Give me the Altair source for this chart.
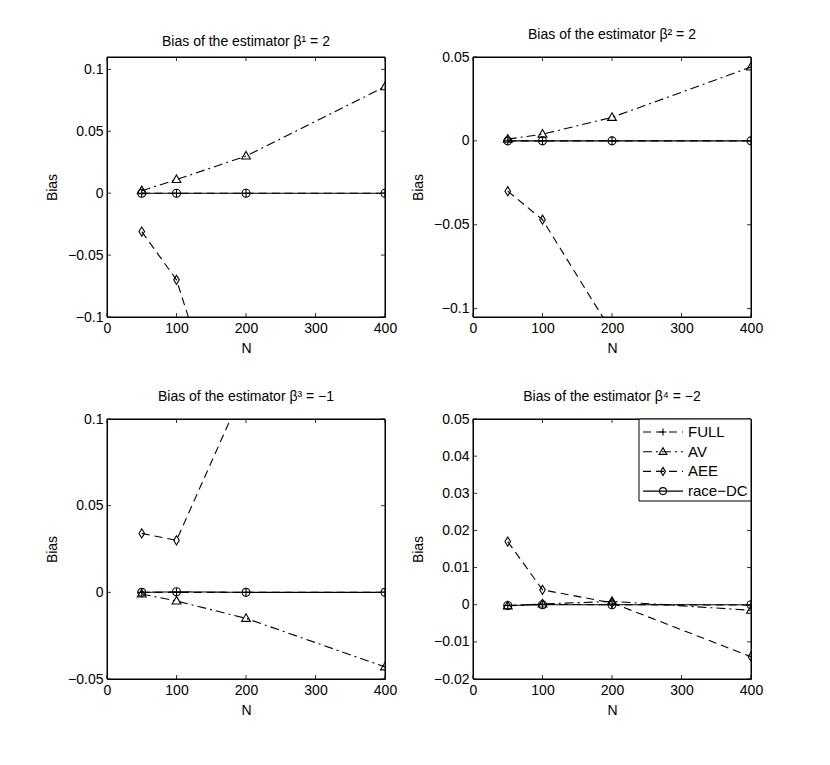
import altair as alt
import pandas as pd

N = [50, 100, 200, 400]
series = ["FULL", "AV", "AEE", "race−DC"]

# Panel 1: beta^1 = 2
p1_full = [0.0, 0.0, 0.0, 0.0]
p1_av = [0.002, 0.011, 0.030, 0.086]
p1_aee = [-0.031, -0.070, -0.246, -0.400]
p1_race = [0.0, 0.0, 0.0, 0.0]

# Panel 2: beta^2 = 2
p2_full = [0.0, 0.0, 0.0, 0.0]
p2_av = [0.001, 0.004, 0.014, 0.044]
p2_aee = [-0.030, -0.047, -0.114, -0.200]
p2_race = [0.0, 0.0, 0.0, 0.0]

# Panel 3: beta^3 = -1
p3_full = [0.0, 0.0, 0.0, 0.0]
p3_av = [-0.001, -0.005, -0.015, -0.043]
p3_aee = [0.034, 0.030, 0.120, 0.200]
p3_race = [0.0, 0.0003, 0.0, 0.0]

# Panel 4: beta^4 = -2
p4_full = [-0.0002, 0.0001, 0.0, -0.0001]
p4_av = [-0.0003, 0.0002, 0.0009, -0.0015]
p4_aee = [0.017, 0.004, 0.0005, -0.014]
p4_race = [-0.0002, 0.0, 0.0, 0.0]

titles = [
    "Bias of the estimator β¹ = 2",
    "Bias of the estimator β² = 2",
    "Bias of the estimator β³ = −1",
    "Bias of the estimator β⁴ = −2",
]
y_domains = [[-0.1, 0.11], [-0.105, 0.05], [-0.05, 0.1], [-0.02, 0.05]]
y_ticks = [
    [-0.1, -0.05, 0, 0.05, 0.1],
    [-0.1, -0.05, 0, 0.05],
    [-0.05, 0, 0.05, 0.1],
    [-0.02, -0.01, 0, 0.01, 0.02, 0.03, 0.04, 0.05],
]
x_ticks = [0, 100, 200, 300, 400]
x_domain = [0, 400]

panels = [
    [p1_full, p1_av, p1_aee, p1_race],
    [p2_full, p2_av, p2_aee, p2_race],
    [p3_full, p3_av, p3_aee, p3_race],
    [p4_full, p4_av, p4_aee, p4_race],
]

FONT = "Liberation Sans"
W, H = 278, 260
TL = 4  # tick length

dash_range = [[8, 5], [9, 4, 2, 4], [8, 5], [1, 0]]
shape_range = [
    "M-1,0L1,0M0,-1L0,1",
    "M0,-1.15L1.1,0.75L-1.1,0.75Z",
    "M0,-1.15L0.7,0L0,1.15L-0.7,0Z",
    "M1,0A1,1 0 1,1 -1,0A1,1 0 1,1 1,0Z",
]


def panel(idx):
    rows = []
    for s, vals in zip(series, panels[idx]):
        for n, v in zip(N, vals):
            rows.append({"N": n, "bias": v, "series": s})
    df = pd.DataFrame(rows)
    xs = alt.Scale(domain=x_domain, nice=False, zero=False)
    ys = alt.Scale(domain=y_domains[idx], nice=False, zero=False)
    x_axis = alt.Axis(
        values=x_ticks, format="d", title="N", titlePadding=6, labelFlush=False
    )
    y_axis = alt.Axis(
        values=y_ticks[idx],
        format="~g",
        title="Bias",
        titleX=-55,
        titleY=H / 2,
        titleBaseline="middle",
        titleAlign="center",
        labelFlush=False,
    )
    xe = alt.X("N:Q", scale=xs, axis=x_axis)
    ye = alt.Y("bias:Q", scale=ys, axis=y_axis)

    base = alt.Chart(df)
    lines = base.mark_line(clip=True, color="black", strokeWidth=1.1).encode(
        x=xe,
        y=ye,
        strokeDash=alt.StrokeDash(
            "series:N", scale=alt.Scale(domain=series, range=dash_range), legend=None
        ),
        detail="series:N",
    )
    points = base.mark_point(
        clip=True, filled=False, color="black", strokeWidth=1.1, size=64, opacity=1
    ).encode(
        x=xe,
        y=ye,
        shape=alt.Shape(
            "series:N", scale=alt.Scale(domain=series, range=shape_range), legend=None
        ),
    )

    xt = pd.DataFrame({"N": x_ticks})
    yt = pd.DataFrame({"bias": y_ticks[idx]})
    tick_style = dict(color="#333333", strokeWidth=1)
    xb = alt.Chart(xt).mark_rule(**tick_style).encode(
        x=xe, y=alt.value(H), y2=alt.value(H - TL)
    )
    xtop = alt.Chart(xt).mark_rule(**tick_style).encode(
        x=xe, y=alt.value(0), y2=alt.value(TL)
    )
    yl = alt.Chart(yt).mark_rule(**tick_style).encode(
        y=ye, x=alt.value(0), x2=alt.value(TL)
    )
    yr = alt.Chart(yt).mark_rule(**tick_style).encode(
        y=ye, x=alt.value(W), x2=alt.value(W - TL)
    )

    one = pd.DataFrame({"k": [0]})
    frame = alt.Chart(one).mark_rect(
        fill=None, fillOpacity=0, stroke="black", strokeWidth=1
    ).encode(x=alt.value(0), x2=alt.value(W), y=alt.value(0), y2=alt.value(H))

    layers = [lines, points, xb, xtop, yl, yr, frame]

    if idx == 3:
        box = alt.Chart(one).mark_rect(
            fill="white", stroke="black", strokeWidth=1
        ).encode(
            x=alt.value(166), x2=alt.value(W), y=alt.value(0), y2=alt.value(82)
        )
        layers.append(box)
        for i, s in enumerate(series):
            yy = 13 + i * 19.7
            d = pd.DataFrame({"label": [s]})
            layers.append(
                alt.Chart(d).mark_rule(
                    color="black", strokeWidth=1.1, strokeDash=dash_range[i]
                ).encode(x=alt.value(170), x2=alt.value(210), y=alt.value(yy))
            )
            layers.append(
                alt.Chart(d).mark_point(
                    filled=False, color="black", strokeWidth=1.1, size=49,
                    shape=shape_range[i], opacity=1,
                ).encode(x=alt.value(190), y=alt.value(yy))
            )
            layers.append(
                alt.Chart(d).mark_text(
                    align="left", baseline="middle", font=FONT, fontSize=15,
                    color="black",
                ).encode(x=alt.value(215), y=alt.value(yy), text="label:N")
            )

    return alt.layer(*layers).properties(
        width=W,
        height=H,
        title=alt.TitleParams(
            titles[idx], font=FONT, fontSize=14, fontWeight="normal",
            color="black", anchor="middle", offset=8,
        ),
    )


chart = (
    alt.concat(
        *[panel(i) for i in range(4)],
        columns=2,
        spacing={"row": 102, "column": 88},
        bounds="flush",
    )
    .properties(padding={"left": 36, "top": 19, "right": 5, "bottom": 5})
    .configure(background="white")
    .configure_view(stroke="black", strokeWidth=1)
    .configure_axis(
        labelFont=FONT,
        labelFontSize=14,
        labelColor="black",
        titleFont=FONT,
        titleFontSize=14,
        titleFontWeight="normal",
        titleColor="black",
        ticks=False,
        domain=False,
        grid=False,
        labelPadding=4,
    )
)

chart.save("out.html", embed_options={"renderer": "svg", "actions": False})
